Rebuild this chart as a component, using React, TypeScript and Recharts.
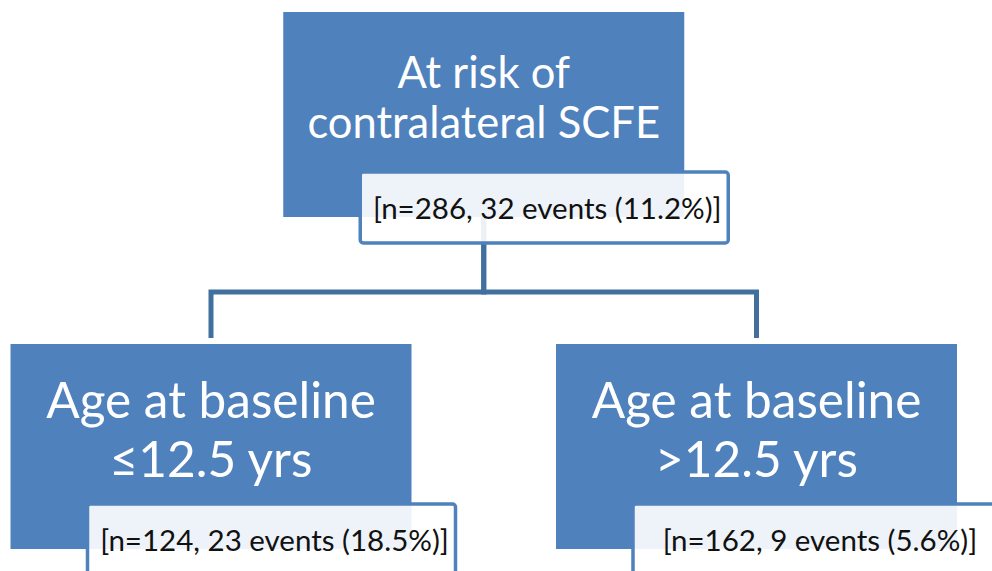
import { ScatterChart, Scatter, XAxis, YAxis } from "recharts";

// tree nodes (root first)
const nodeTitles = [
  ["At risk of", "contralateral SCFE"],
  ["Age at baseline", "≤12.5 yrs"],
  ["Age at baseline", ">12.5 yrs"],
];
const nodeN = [286, 124, 162];
const nodeEvents = [32, 23, 9];
const nodePct = ["11.2", "18.5", "5.6"];
const nodeParent = [-1, 0, 0];

const W = 992;
const H = 571;
const BOX_W = 401;
const BOX_H = 205;
const LEVEL_PX = 332;
const INNER_W = 368;
const INNER_H = 71;
const BLUE = "#4F81BD";
const LINE = "#41709F";
const FONT = "Lato, 'Open Sans', sans-serif";

const levelText = [
  { size: 43.5, base: 76, gap: 50 },
  { size: 49.5, base: 74, gap: 59 },
];

// depth and slot of every node: leaves side by side, parents centred over children
const level = nodeParent.map((_, i) => {
  let d = 0;
  let p = nodeParent[i];
  while (p >= 0) {
    d++;
    p = nodeParent[p];
  }
  return d;
});
const kids = nodeParent.map((_, i) => nodeParent.map((p, j) => (p === i ? j : -1)).filter((j) => j >= 0));
const slot: number[] = [];
let leafCount = 0;
function place(i: number): number {
  if (kids[i].length === 0) {
    slot[i] = leafCount++;
  } else {
    const s = kids[i].map(place);
    slot[i] = s.reduce((a, b) => a + b, 0) / s.length;
  }
  return slot[i];
}
place(0);
const slotMax = Math.max(leafCount - 1, 1);

const nodes = nodeTitles.map((_, i) => ({ x: slot[i], y: level[i], i }));

// elbow connectors in axis units
const BOTTOM = BOX_H / 2 / LEVEL_PX;
const BUS = 0.535;
const STUB = (BOX_H / 2 + 6) / LEVEL_PX;
const edges = nodeParent
  .map((p, i) =>
    p < 0
      ? null
      : [
          { x: slot[p], y: level[p] + BOTTOM },
          { x: slot[p], y: level[p] + BUS },
          { x: slot[i], y: level[p] + BUS },
          { x: slot[i], y: level[i] - STUB },
        ]
  )
  .filter((e) => e !== null) as { x: number; y: number }[][];

function NodeBox(props: any) {
  const { cx, cy, payload } = props;
  const i = payload.i;
  const st = levelText[payload.y] ?? levelText[1];
  const left = cx - BOX_W / 2;
  const top = cy - BOX_H / 2;
  const iLeft = left + 77;
  const iTop = top + BOX_H - 45;
  return (
    <g>
      <rect x={left} y={top} width={BOX_W} height={BOX_H} fill={BLUE} />
      {nodeTitles[i].map((t, k) => (
        <text
          key={k}
          x={cx}
          y={top + st.base + k * st.gap}
          textAnchor="middle"
          fill="#ffffff"
          fontSize={st.size}
          fontFamily={FONT}
        >
          {t}
        </text>
      ))}
      <rect
        x={iLeft}
        y={iTop}
        width={INNER_W}
        height={INNER_H}
        rx={3}
        fill="#ffffff"
        fillOpacity={0.9}
        stroke={BLUE}
        strokeWidth={3.5}
      />
      <text
        x={iLeft + INNER_W / 2 + 3}
        y={iTop + 47}
        textAnchor="middle"
        fill="#111111"
        fontSize={29.5}
        fontFamily={FONT}
      >
        {`[n=${nodeN[i]}, ${nodeEvents[i]} events (${nodePct[i]}%)]`}
      </text>
    </g>
  );
}

const noDot = () => <g />;

export default function App() {
  return (
    <div style={{ position: "absolute", left: 0, top: 0, width: W, height: H, overflow: "hidden", background: "#fff" }}>
      <ScatterChart
        width={W}
        height={H}
        margin={{ top: 114.5, left: 211, right: 235.5, bottom: 124.5 }}
      >
        <XAxis type="number" dataKey="x" domain={[0, slotMax]} hide />
        <YAxis type="number" dataKey="y" domain={[0, 1]} reversed hide />
        {edges.map((e, k) => (
          <Scatter
            key={k}
            data={e}
            line={{ stroke: LINE, strokeWidth: 5, strokeLinejoin: "miter" }}
            lineType="joint"
            shape={noDot}
            isAnimationActive={false}
          />
        ))}
        <Scatter data={nodes} shape={NodeBox} isAnimationActive={false} />
      </ScatterChart>
    </div>
  );
}
